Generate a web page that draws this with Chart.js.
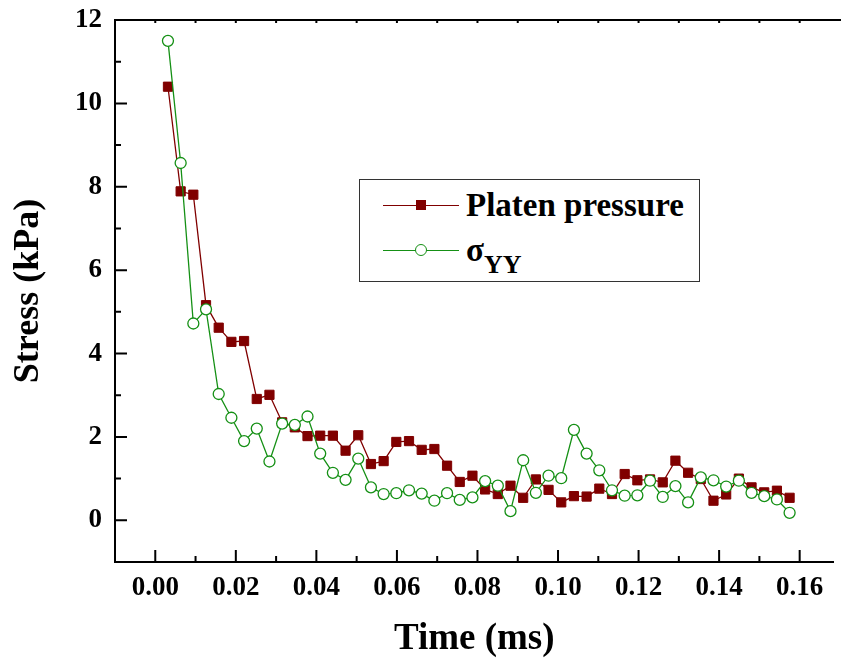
<!DOCTYPE html>
<html>
<head>
<meta charset="utf-8">
<script src="https://cdn.jsdelivr.net/npm/chart.js@4.4.1/dist/chart.umd.min.js"></script>
<style>
  body { margin: 0; background: #fff; }
  #wrap { position: relative; width: 841px; height: 666px; overflow: hidden; }
  #legend { position: absolute; left: 359px; top: 179px; width: 341px; height: 103px;
            border: 1.5px solid #333; box-sizing: border-box; background: #fff;
            font-family: 'Liberation Serif', 'Times New Roman', 'DejaVu Serif', serif; font-weight: bold; color: #000; }
  #legend .line { position: absolute; left: 23px; width: 76px; height: 0; border-top: 1.3px solid; }
  #legend .mark { position: absolute; box-sizing: border-box; }
  #legend .lab { position: absolute; left: 106px; font-size: 33px; line-height: 30px; white-space: nowrap; }
</style>
</head>
<body>
<div id="wrap">
  <canvas id="stressChart" width="841" height="666"></canvas>
  <div id="legend">
    <div class="line" style="top:25px; border-color:#800000"></div>
    <div class="mark" style="left:56px; top:20px; width:10px; height:10px; background:#800000"></div>
    <span class="lab" style="top:10px">Platen pressure</span>
    <div class="line" style="top:70px; border-color:#159015"></div>
    <div class="mark" style="left:55px; top:64px; width:12px; height:12px; border:1.3px solid #159015; border-radius:50%; background:#fff"></div>
    <span class="lab" style="top:55px">σ<span style="font-size:26px; position:relative; top:12px">YY</span></span>
  </div>
</div>
<script>
// time stamps (ms)
const timeValues = [0.00315, 0.0063, 0.00945, 0.0126, 0.01575, 0.0189, 0.02205, 0.0252, 0.02835, 0.0315,
  0.03465, 0.0378, 0.04095, 0.0441, 0.04725, 0.0504, 0.05355, 0.0567, 0.05985, 0.063,
  0.06615, 0.0693, 0.07245, 0.0756, 0.07875, 0.0819, 0.08505, 0.0882, 0.09135, 0.0945,
  0.09765, 0.1008, 0.10395, 0.1071, 0.11025, 0.1134, 0.11655, 0.1197, 0.12285, 0.126,
  0.12915, 0.1323, 0.13545, 0.1386, 0.14175, 0.1449, 0.14805, 0.1512, 0.15435, 0.1575];

// platen pressure (kPa)
const platenPressure = [10.40, 7.89, 7.81, 5.16, 4.62, 4.28, 4.30, 2.91, 3.01, 2.35,
  2.23, 2.02, 2.03, 2.03, 1.67, 2.04, 1.35, 1.42, 1.88, 1.90,
  1.69, 1.71, 1.31, 0.92, 1.07, 0.74, 0.63, 0.83, 0.54, 0.98,
  0.73, 0.43, 0.58, 0.57, 0.76, 0.63, 1.11, 0.96, 0.98, 0.91,
  1.43, 1.14, 0.99, 0.47, 0.62, 1.00, 0.79, 0.67, 0.71, 0.54];

// sigma_YY (kPa)
const sigmaYY = [11.50, 8.57, 4.72, 5.06, 3.03, 2.46, 1.90, 2.20, 1.41, 2.32,
  2.29, 2.49, 1.60, 1.14, 0.97, 1.48, 0.79, 0.63, 0.65, 0.72,
  0.64, 0.47, 0.65, 0.49, 0.55, 0.94, 0.83, 0.22, 1.44, 0.66,
  1.07, 1.01, 2.17, 1.60, 1.20, 0.72, 0.59, 0.60, 0.95, 0.56,
  0.82, 0.43, 1.03, 0.96, 0.81, 0.95, 0.66, 0.58, 0.50, 0.18];

const xMajorTicks = [0, 0.02, 0.04, 0.06, 0.08, 0.10, 0.12, 0.14, 0.16];
const xMinorTicks = [0.01, 0.03, 0.05, 0.07, 0.09, 0.11, 0.13, 0.15];
const yMajorTicks = [0, 2, 4, 6, 8, 10, 12];
const yMinorTicks = [1, 3, 5, 7, 9, 11];

const serif = "'Liberation Serif', 'Times New Roman', serif";

// inward tick marks + top frame line
const frameTicks = {
  id: 'frameTicks',
  afterDraw(chart) {
    const ctx = chart.ctx, a = chart.chartArea;
    const xs = chart.scales.x, ys = chart.scales.y;
    ctx.save();
    ctx.strokeStyle = '#000';
    ctx.lineWidth = 2;
    ctx.beginPath();
    ctx.moveTo(a.left - 1, a.top);
    ctx.lineTo(chart.width, a.top);
    const tick = (list, len) => {
      list.forEach(v => {
        const px = xs.getPixelForValue(v);
        ctx.moveTo(px, a.bottom);
        ctx.lineTo(px, a.bottom - len);
        ctx.moveTo(px, a.top);
        ctx.lineTo(px, a.top + 3);
      });
    };
    tick(xMajorTicks, 12);
    tick(xMinorTicks, 6);
    yMajorTicks.forEach(v => {
      const py = ys.getPixelForValue(v);
      ctx.moveTo(a.left, py);
      ctx.lineTo(a.left + 12, py);
    });
    yMinorTicks.forEach(v => {
      const py = ys.getPixelForValue(v);
      ctx.moveTo(a.left, py);
      ctx.lineTo(a.left + 6, py);
    });
    ctx.stroke();
    ctx.restore();
  }
};

new Chart(document.getElementById('stressChart'), {
  type: 'line',
  data: {
    datasets: [
      {
        label: 'Platen pressure',
        data: timeValues.map((t, i) => ({x: t, y: platenPressure[i]})),
        borderColor: '#800000',
        borderWidth: 1.3,
        pointStyle: 'rect',
        pointRadius: 6.5,
        pointBackgroundColor: '#800000',
        pointBorderColor: '#800000',
        pointBorderWidth: 1,
        tension: 0,
        order: 1
      },
      {
        label: 'σYY',
        data: timeValues.map((t, i) => ({x: t, y: sigmaYY[i]})),
        borderColor: '#159015',
        borderWidth: 1.3,
        pointStyle: 'circle',
        pointRadius: 5.5,
        pointBackgroundColor: '#fff',
        pointBorderColor: '#159015',
        pointBorderWidth: 1.3,
        tension: 0,
        order: 0
      }
    ]
  },
  options: {
    responsive: false,
    animation: false,
    devicePixelRatio: 1,
    layout: { padding: { top: 20, right: -6, left: 0, bottom: 0 } },
    plugins: { legend: { display: false }, tooltip: { enabled: false } },
    scales: {
      x: {
        type: 'linear',
        min: -0.01,
        max: 0.1684,
        afterBuildTicks: s => { s.ticks = xMajorTicks.map(v => ({value: v})); },
        afterFit: s => { s.height = 104; s.paddingLeft = 0; s.paddingRight = 0; },
        grid: { display: false, drawTicks: false },
        border: { display: true, color: '#000', width: 2 },
        ticks: {
          padding: 10,
          color: '#000',
          font: { family: serif, size: 27, weight: 'bold' },
          maxRotation: 0,
          callback: v => v.toFixed(2)
        },
        title: {
          display: true,
          text: 'Time (ms)',
          color: '#000',
          padding: { top: 0, bottom: 4 },
          font: { family: serif, size: 37, weight: 'bold' }
        }
      },
      y: {
        type: 'linear',
        min: -1,
        max: 12,
        afterBuildTicks: s => { s.ticks = yMajorTicks.map(v => ({value: v})); },
        afterFit: s => { s.width = 115; s.paddingTop = 0; s.paddingBottom = 0; },
        grid: { display: false, drawTicks: false },
        border: { display: true, color: '#000', width: 2 },
        ticks: {
          padding: 13,
          color: '#000',
          font: { family: serif, size: 27, weight: 'bold' },
          callback: v => String(v)
        },
        title: {
          display: true,
          text: 'Stress (kPa)',
          color: '#000',
          padding: { top: 7, bottom: 0 },
          font: { family: serif, size: 36, weight: 'bold' }
        }
      }
    }
  },
  plugins: [frameTicks]
});
</script>
</body>
</html>
